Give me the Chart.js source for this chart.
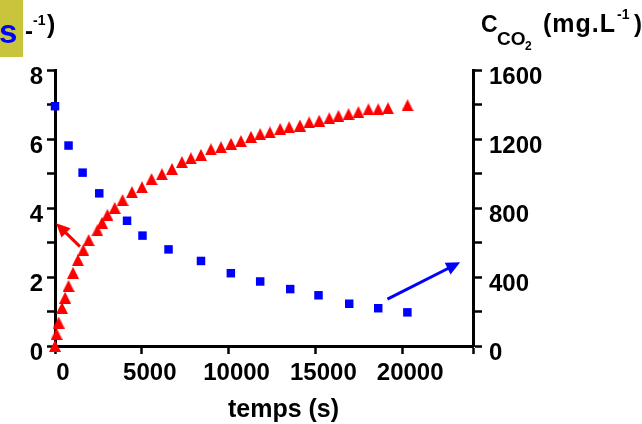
<!DOCTYPE html>
<html>
<head>
<meta charset="utf-8">
<script src="https://cdn.jsdelivr.net/npm/chart.js@4.4.1/dist/chart.umd.min.js"></script>
<style>
  html, body { margin: 0; padding: 0; background: #fff; overflow: hidden; }
  #wrap { position: relative; width: 642px; height: 424px; }
</style>
</head>
<body>
<div id="wrap"><canvas id="c" width="642" height="424"></canvas></div>
<script>
// Red triangles (left axis): time in s and value
const fluxTemps = [0, 90, 210, 400, 580, 780, 1040, 1320, 1630, 1940, 2440, 2710, 3020, 3440,
  3890, 4430, 5010, 5560, 6160, 6740, 7310, 7830, 8410, 8980, 9560, 10140, 10710, 11290,
  11820, 12380, 12970, 13490, 14110, 14640, 15220, 15800, 16330, 16910, 17480, 18060,
  18620, 19180, 20310];
const fluxValeurs = [0, 0.35, 0.68, 1.10, 1.40, 1.74, 2.12, 2.49, 2.78, 3.07, 3.35, 3.57, 3.80, 4.00,
  4.23, 4.46, 4.60, 4.84, 4.98, 5.13, 5.33, 5.44, 5.54, 5.70, 5.76, 5.86, 5.94, 6.06,
  6.14, 6.19, 6.29, 6.34, 6.39, 6.48, 6.53, 6.60, 6.67, 6.72, 6.78, 6.86,
  6.86, 6.89, 6.98];

// Blue squares (right axis): time in s and CO2 concentration in mg/L
const co2Temps = [0, 780, 1590, 2550, 4150, 5040, 6540, 8410, 10130, 11820, 13550, 15180, 16950, 18620, 20300];
const co2Valeurs = [1390, 1162, 1005, 885, 726, 640, 560, 493, 422, 374, 330, 294, 245, 219, 195];

// Axis ticks
const tempsTicks = [0, 5000, 10000, 15000, 20000];
const gaucheTicks = [0, 2, 4, 6, 8];
const droiteTicks = [0, 400, 800, 1200, 1600];

// Arrows (data units), each tied to the axis of its series
const fleches = [
  { from: [1440, 2.88], to: [60, 3.56], axis: 'y', color: '#ff0000' },
  { from: [19150, 272], to: [23340, 485], axis: 'y1', color: '#0000ff' }
];

const FONT = "'Liberation Sans', Arial, sans-serif";

// Isosceles triangle marker
function triangleMarker(w, h, color) {
  const cv = document.createElement('canvas');
  cv.width = w; cv.height = h;
  const g = cv.getContext('2d');
  g.fillStyle = color;
  g.beginPath();
  g.moveTo(w / 2, 0);
  g.lineTo(w, h);
  g.lineTo(0, h);
  g.closePath();
  g.fill();
  return cv;
}

function drawArrow(ctx, x0, y0, x1, y1, color, lw, headLen, headW) {
  const ang = Math.atan2(y1 - y0, x1 - x0);
  const bx = x1 - Math.cos(ang) * headLen;
  const by = y1 - Math.sin(ang) * headLen;
  ctx.save();
  ctx.strokeStyle = color;
  ctx.fillStyle = color;
  ctx.lineWidth = lw;
  ctx.beginPath();
  ctx.moveTo(x0, y0);
  ctx.lineTo(bx + Math.cos(ang) * 2, by + Math.sin(ang) * 2);
  ctx.stroke();
  ctx.beginPath();
  ctx.moveTo(x1, y1);
  ctx.lineTo(bx + Math.sin(ang) * headW / 2, by - Math.cos(ang) * headW / 2);
  ctx.lineTo(bx - Math.sin(ang) * headW / 2, by + Math.cos(ang) * headW / 2);
  ctx.closePath();
  ctx.fill();
  ctx.restore();
}

const decorPlugin = {
  id: 'decor',
  afterDatasetsDraw(chart) {
    const ctx = chart.ctx;
    const xs = chart.scales.x;
    fleches.forEach(f => {
      const ys = chart.scales[f.axis];
      drawArrow(ctx,
        xs.getPixelForValue(f.from[0]), ys.getPixelForValue(f.from[1]),
        xs.getPixelForValue(f.to[0]), ys.getPixelForValue(f.to[1]),
        f.color, 3, 14, 13);
    });
  },
  afterDraw(chart) {
    const ctx = chart.ctx;
    ctx.save();
    ctx.textBaseline = 'alphabetic';
    ctx.textAlign = 'left';

    // left axis title (partially visible)
    ctx.fillStyle = '#c8c43c';
    ctx.fillRect(0, 0, 23, 57);
    ctx.fillStyle = '#0000ff';
    ctx.font = 'bold 33px ' + FONT;
    ctx.fillText('s', -1, 43);
    ctx.fillStyle = '#000';
    ctx.font = 'bold 24px ' + FONT;
    ctx.fillText('-', 25, 39);
    ctx.font = 'bold 14px ' + FONT;
    ctx.fillText('-1', 33, 25);
    ctx.font = 'bold 25px ' + FONT;
    ctx.fillText(')', 47, 33);

    // right axis title
    ctx.font = 'bold 23px ' + FONT;
    ctx.fillText('C', 481, 31.5);
    ctx.font = 'bold 19px ' + FONT;
    ctx.fillText('CO', 497, 44.5);
    ctx.font = 'bold 12px ' + FONT;
    ctx.fillText('2', 525, 50);
    ctx.font = 'bold 25px ' + FONT;
    ctx.letterSpacing = '1px';
    ctx.fillText('(mg.L', 543, 31.5);
    ctx.letterSpacing = '0px';
    ctx.font = 'bold 14px ' + FONT;
    ctx.fillText('-1', 617, 18.5);
    ctx.font = 'bold 24px ' + FONT;
    ctx.fillText(')', 634, 31.5);

    // x axis title
    ctx.textAlign = 'center';
    ctx.font = 'bold 25px ' + FONT;
    ctx.fillText('temps (s)', 283.5, 417);
    ctx.restore();
  }
};

const tickFont = { family: FONT, size: 24, weight: 'bold' };

const axisCommon = (tickLen) => ({
  grid: { drawOnChartArea: false, drawTicks: true, tickLength: tickLen, tickWidth: 2.5, tickColor: '#000', color: '#000' },
  border: { display: true, color: '#000', width: 3 }
});

new Chart(document.getElementById('c'), {
  type: 'scatter',
  data: {
    datasets: [
      {
        data: fluxTemps.map((t, i) => ({ x: t, y: fluxValeurs[i] })),
        yAxisID: 'y',
        pointStyle: triangleMarker(12, 12, '#ff0000'),
        pointRadius: 6,
        backgroundColor: '#ff0000',
        borderWidth: 0,
        clip: false
      },
      {
        data: co2Temps.map((t, i) => ({ x: t, y: co2Valeurs[i] })),
        yAxisID: 'y1',
        pointStyle: 'rect',
        pointRadius: 6,
        backgroundColor: '#0000ff',
        borderColor: '#0000ff',
        borderWidth: 0,
        clip: false
      }
    ]
  },
  options: {
    responsive: false,
    animation: false,
    events: [],
    layout: { padding: { top: 70, left: 0, right: 0, bottom: 0 } },
    plugins: { legend: { display: false }, tooltip: { enabled: false }, title: { display: false } },
    scales: {
      x: {
        type: 'linear', position: 'bottom', min: 0, max: 24080,
        ...axisCommon(8),
        afterBuildTicks: s => { s.ticks = tempsTicks.map(v => ({ value: v })).concat([{ value: s.max }]); },
        afterFit: s => { s.height = 78; },
        ticks: {
          color: '#000', font: tickFont, padding: 5, labelOffset: 8,
          maxRotation: 0, autoSkip: false,
          callback: v => tempsTicks.includes(v) ? String(v) : ''
        }
      },
      y: {
        type: 'linear', position: 'left', min: 0, max: 8,
        ...axisCommon(8),
        afterFit: s => { s.width = 55; },
        ticks: {
          stepSize: 1, color: '#000', font: tickFont, padding: 4, labelOffset: 7,
          autoSkip: false,
          callback: v => gaucheTicks.includes(v) ? String(v) : ''
        }
      },
      y1: {
        type: 'linear', position: 'right', min: 0, max: 1600,
        ...axisCommon(9),
        afterFit: s => { s.width = 169; },
        ticks: {
          stepSize: 200, color: '#000', font: tickFont, padding: 7, labelOffset: 7,
          autoSkip: false,
          callback: v => droiteTicks.includes(v) ? String(v) : ''
        }
      }
    }
  },
  plugins: [decorPlugin]
});
</script>
</body>
</html>
